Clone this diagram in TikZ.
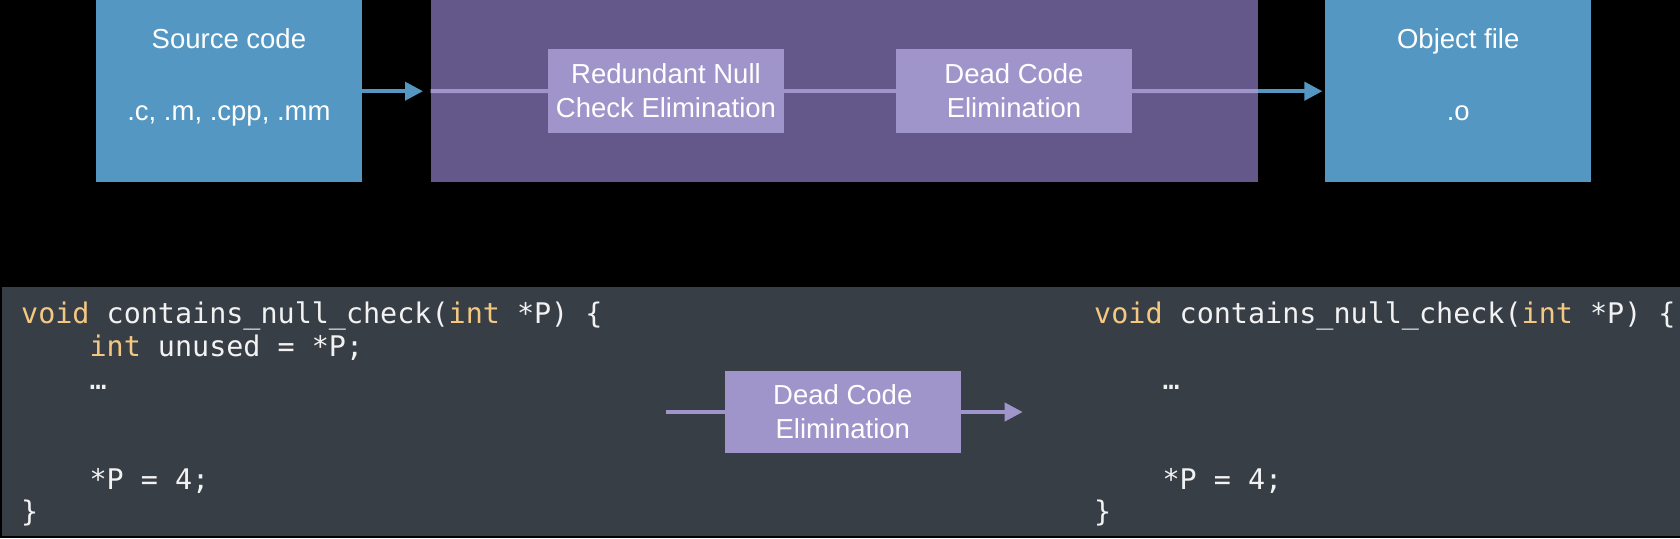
\documentclass[tikz,border=0pt]{standalone}
\usepackage{fontspec}
\setmainfont{Liberation Sans}
\setmonofont{DejaVu Sans Mono}
\usetikzlibrary{arrows.meta,calc}
\definecolor{boxblue}{HTML}{5497C2}
\definecolor{procpurple}{HTML}{635889}
\definecolor{passpurple}{HTML}{A095CB}
\definecolor{panelgray}{HTML}{383E46}
\definecolor{kwcolor}{HTML}{F5C882}
\definecolor{codewhite}{HTML}{F2F2F2}
\newcommand{\kwd}[1]{\textcolor{kwcolor}{#1}}
\newcommand{\codefont}{\fontsize{28.4}{33}\selectfont\ttfamily}
\newcommand{\labfont}{\fontsize{27.5}{34}\selectfont}
\begin{document}
\begin{tikzpicture}[x=1pt,y=-1pt,
  filebox/.style={fill=boxblue, draw=none, minimum width=266pt, minimum height=182pt, inner sep=0pt, anchor=north west},
  procbox/.style={fill=procpurple, draw=none, minimum width=827.5pt, minimum height=182pt, inner sep=0pt, anchor=north west},
  passbox/.style={fill=passpurple, draw=none, text=white, font=\labfont, align=center, minimum width=236pt, minimum height=84pt, inner sep=0pt},
  filetext/.style={anchor=base, inner sep=0pt, text=white, font=\labfont},
  bluearrow/.style={draw=boxblue, line width=4pt, -{Triangle[length=18pt,width=18pt]}},
  passline/.style={draw=passpurple, line width=4pt},
  passarrow/.style={passline, -{Triangle[length=18pt,width=18pt]}},
  panelbox/.style={fill=panelgray, draw=none, minimum width=1678pt, minimum height=249pt, inner sep=0pt, anchor=north west},
  code/.style={anchor=base west, inner sep=0pt, text=codewhite, font=\codefont}
]
\useasboundingbox (0,0) rectangle (1680,538);
\fill[black] (0,0) rectangle (1680,538);

% ---------- top pipeline ----------
\node[filebox] (src) at (95.7,0) {};
\node[filetext] (srct1) at ($(src.north)+(0,48.3)$) {Source code};
\node[filetext] (srct2) at ($(src.north)+(0,120)$) {.c, .m, .cpp, .mm};

\node[procbox] (proc) at (430.5,0) {};
\node[passbox] (rnce) at (666,91) {Redundant Null\\Check Elimination};
\node[passbox] (dce1) at (1014,91) {Dead Code\\Elimination};

\node[filebox] (obj) at (1325,0) {};
\node[filetext] (objt1) at ($(obj.north)+(0,48.3)$) {Object file};
\node[filetext] (objt2) at ($(obj.north)+(0,120)$) {.o};

\draw[passline] (proc.west) -- (rnce.west);
\draw[passline] (rnce.east) -- (dce1.west);
\draw[passline] (dce1.east) -- (proc.east);
\draw[bluearrow] (src.east) -- ([xshift=-7.5pt]proc.west);
\draw[bluearrow, shorten >=2.6pt] (proc.east) -- (obj.west);

% ---------- bottom code panel ----------
\node[panelbox] (panel) at (2,287) {};

\node[code] (l1) at (21,323) {\kwd{void} contains\_null\_check(\kwd{int} *P) \{};
\node[code] (l2) at (21,356) {\hphantom{0000}\kwd{int} unused = *P;};
\node[code] (l3) at (21,389) {\hphantom{0000}…};
\node[code] (l4) at (21,489) {\hphantom{0000}*P = 4;};
\node[code] (l5) at (21,521) {\}};

\node[code] (r1) at (1094,323) {\kwd{void} contains\_null\_check(\kwd{int} *P) \{};
\node[code] (r3) at (1094,389) {\hphantom{0000}…};
\node[code] (r4) at (1094,489) {\hphantom{0000}*P = 4;};
\node[code] (r5) at (1094,521) {\}};

\node[passbox, minimum width=235.7pt, minimum height=82.6pt] (dce2) at (842.8,412) {Dead Code\\Elimination};
\coordinate (inL) at (666,412);
\coordinate (outR) at (1022.7,412);
\draw[passline] (inL) -- (dce2.west);
\draw[passarrow] (dce2.east) -- (outR);
\end{tikzpicture}
\end{document}
